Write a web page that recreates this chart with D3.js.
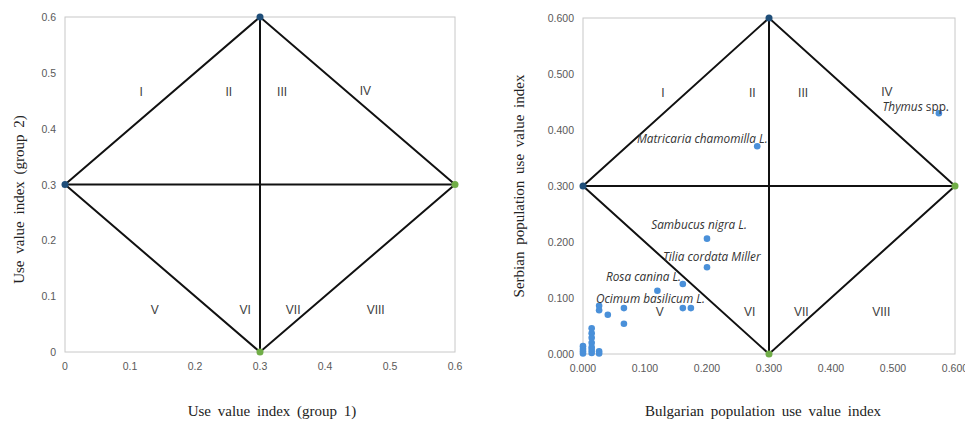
<!DOCTYPE html>
<html>
<head>
<meta charset="utf-8">
<script src="https://cdn.jsdelivr.net/npm/d3@7"></script>
<style>
  body { margin: 0; background: #fff; }
  .tick-label { font-family: "Liberation Sans", Arial, sans-serif; font-size: 10.5px; fill: #595959; }
  .axis-title { font-family: "Liberation Serif", "Times New Roman", serif; font-size: 15px; fill: #222; word-spacing: 3px; }
  .zone { font-family: "Liberation Sans", Arial, sans-serif; font-size: 12px; fill: #404040; }
  .sp-label { font-family: "Open Sans", "Liberation Sans", sans-serif; font-size: 11.8px; fill: #333; font-style: italic; }
  .diamond { fill: none; stroke: #111; stroke-width: 2; }
</style>
</head>
<body>
<svg width="965" height="421"></svg>
<script>
// diamond frame: vertices and the two crossing lines
const diamond = [[0, 0.3], [0.3, 0.6], [0.6, 0.3], [0.3, 0], [0, 0.3]];
const crossLines = [[[0, 0.3], [0.6, 0.3]], [[0.3, 0], [0.3, 0.6]]];
const vertices = [
    { x: 0, y: 0.3, c: "#1f4e79" },
    { x: 0.3, y: 0.6, c: "#1f4e79" },
    { x: 0.6, y: 0.3, c: "#70ad47" },
    { x: 0.3, y: 0, c: "#70ad47" }
];
const ticks = [0, 0.1, 0.2, 0.3, 0.4, 0.5, 0.6];

const zoneNames = ["I", "II", "III", "IV", "V", "VI", "VII", "VIII"];
const zonesLeftX = [0.117, 0.252, 0.334, 0.462, 0.138, 0.277, 0.351, 0.478];
const zonesRightX = [0.129, 0.273, 0.355, 0.49, 0.124, 0.269, 0.352, 0.481];
const zonesY = [0.466, 0.466, 0.466, 0.468, 0.075, 0.075, 0.075, 0.075];

// Bulgarian (x) vs Serbian (y) use value index
const speciesX = [0.574, 0.281, 0.200, 0.200, 0.161, 0.120, 0.161, 0.174, 0.066, 0.066, 0.040,
    0.026, 0.026, 0.014, 0.014, 0.014, 0.014, 0.014, 0.014, 0.014, 0.000, 0.000, 0.000, 0.000,
    0.026, 0.026];
const speciesY = [0.430, 0.371, 0.206, 0.155, 0.125, 0.113, 0.082, 0.082, 0.082, 0.054, 0.070,
    0.086, 0.078, 0.046, 0.037, 0.029, 0.020, 0.012, 0.007, 0.002, 0.014, 0.009, 0.005, 0.001,
    0.005, 0.001];

const labelNames = [["Thymus", " spp."], ["Matricaria chamomilla L.", ""], ["Sambucus nigra L.", ""],
    ["Tilia cordata Miller", ""], ["Rosa canina L.", ""], ["Ocimum basilicum L.", ""]];
const labelX = [0.483, 0.087, 0.110, 0.129, 0.037, 0.021];
const labelY = [0.441, 0.384, 0.231, 0.174, 0.138, 0.098];

function panel(opts) {
    const svg = d3.select("svg");
    const g = svg.append("g");

    const x = d3.scaleLinear().domain([0, 0.6]).range([opts.left, opts.right]);
    const y = d3.scaleLinear().domain([0, 0.6]).range([opts.bottom, opts.top]);

    g.append("rect")
        .attr("x", x(0)).attr("y", y(0.6))
        .attr("width", x(0.6) - x(0)).attr("height", y(0) - y(0.6))
        .attr("fill", "none").attr("stroke", "#c8c8c8").attr("stroke-width", 1);

    g.selectAll(".ytick").data(ticks).enter().append("text")
        .attr("class", "tick-label")
        .attr("x", x(0) - 9).attr("y", (d) => y(d) + 4)
        .attr("text-anchor", "end")
        .text(opts.fmt);

    g.selectAll(".xtick").data(ticks).enter().append("text")
        .attr("class", "tick-label")
        .attr("x", (d) => x(d)).attr("y", y(0) + 18)
        .attr("text-anchor", "middle")
        .text(opts.fmt);

    const line = d3.line().x((d) => x(d[0])).y((d) => y(d[1]));
    g.append("path").attr("class", "diamond").attr("d", line(diamond));
    crossLines.forEach((l) => g.append("path").attr("class", "diamond").attr("d", line(l)));

    g.selectAll(".zone").data(zoneNames).enter().append("text")
        .attr("class", "zone")
        .attr("x", (d, i) => x(opts.zonesX[i]))
        .attr("y", (d, i) => y(zonesY[i]) + 4)
        .attr("text-anchor", "middle")
        .text((d) => d);

    if (opts.points) {
        g.selectAll(".pt").data(speciesX).enter().append("circle")
            .attr("cx", (d) => x(d))
            .attr("cy", (d, i) => y(speciesY[i]))
            .attr("r", 3.3)
            .attr("fill", "#4a90d9");

        const lab = g.selectAll(".sp").data(labelNames).enter().append("text")
            .attr("class", "sp-label")
            .attr("x", (d, i) => x(labelX[i]))
            .attr("y", (d, i) => y(labelY[i]) + 4);
        lab.append("tspan").text((d) => d[0]);
        lab.append("tspan").style("font-style", "normal").text((d) => d[1]);
    }

    g.selectAll(".vtx").data(vertices).enter().append("circle")
        .attr("cx", (d) => x(d.x)).attr("cy", (d) => y(d.y))
        .attr("r", 3.5).attr("fill", (d) => d.c);

    g.append("text").attr("class", "axis-title")
        .attr("x", (opts.left + opts.right) / 2 + opts.xTitleShift).attr("y", 416)
        .attr("text-anchor", "middle")
        .text(opts.xTitle);

    g.append("text").attr("class", "axis-title")
        .attr("transform", `translate(${opts.yTitleX},${(opts.top + opts.bottom) / 2 + opts.yTitleShift}) rotate(-90)`)
        .attr("text-anchor", "middle")
        .text(opts.yTitle);
}

panel({
    left: 65, right: 455, top: 17, bottom: 352,
    fmt: (d) => d === 0 ? "0" : d3.format(".1f")(d),
    zonesX: zonesLeftX,
    xTitle: "Use value index (group 1)", xTitleShift: 12,
    yTitle: "Use value index (group 2)", yTitleX: 24, yTitleShift: 15,
    points: false
});

panel({
    left: 583, right: 955, top: 18, bottom: 354,
    fmt: d3.format(".3f"),
    zonesX: zonesRightX,
    xTitle: "Bulgarian population use value index", xTitleShift: -6,
    yTitle: "Serbian population use value index", yTitleX: 524, yTitleShift: 0,
    points: true
});
</script>
</body>
</html>
